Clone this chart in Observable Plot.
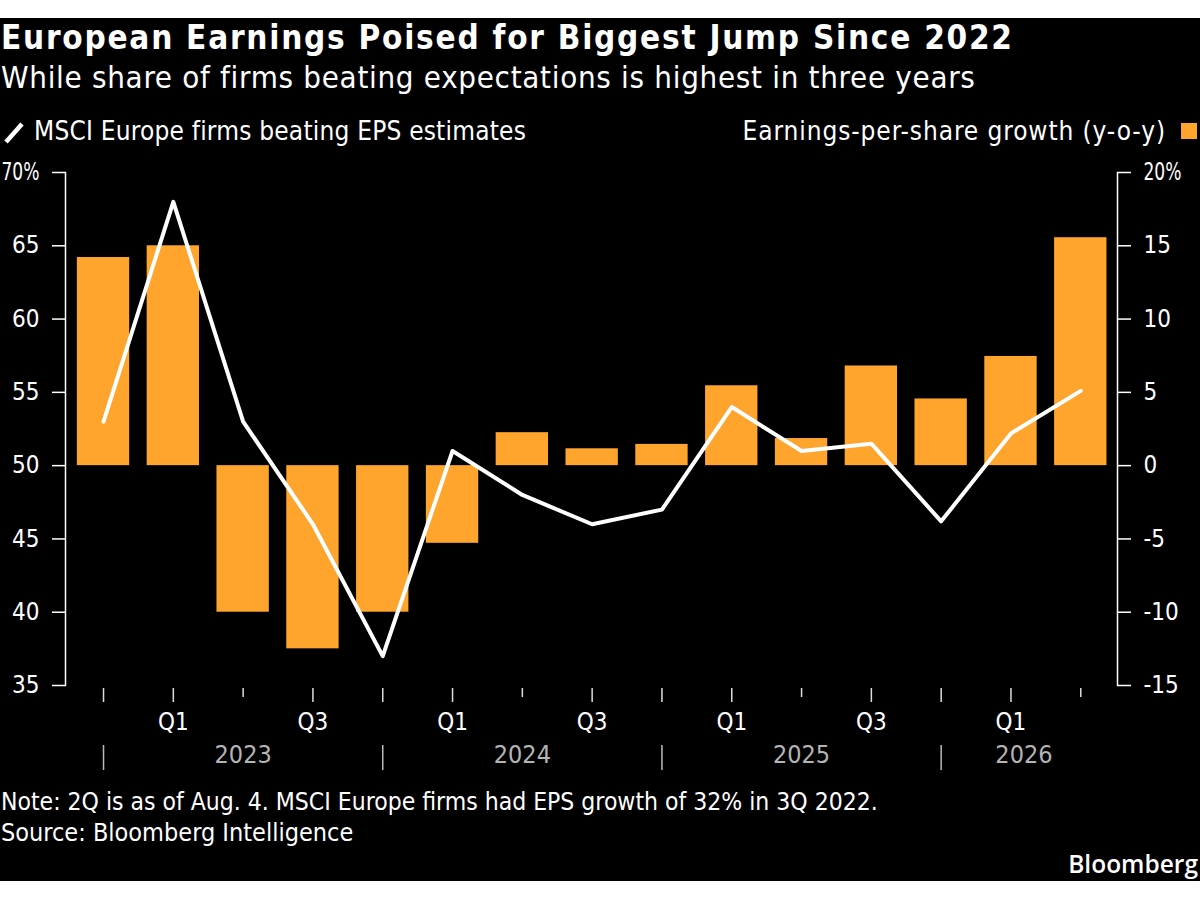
<!DOCTYPE html>
<html><head><meta charset="utf-8">
<script src="https://cdn.jsdelivr.net/npm/d3@7"></script>
<script src="https://cdn.jsdelivr.net/npm/@observablehq/plot@0.6"></script>
<style>
html,body{margin:0;padding:0;background:#fff}
#card{position:absolute;left:0;top:18px;width:1200px;height:863px;background:#000;color:#fff;overflow:hidden;
 font-family:"DejaVu Sans";font-stretch:condensed}
#title{position:absolute;left:1px;top:0;font-size:33px;font-weight:700;line-height:40px;white-space:nowrap;letter-spacing:1.75px}
#sub{position:absolute;left:1px;top:39px;font-size:31px;line-height:40px;white-space:nowrap;letter-spacing:.7px}
.leg{position:absolute;top:96px;font-size:26px;line-height:34px;white-space:nowrap}
#swL{position:absolute;left:4px;top:104px}
#swR{position:absolute;left:1181px;top:105px;width:16px;height:16px;background:#ffa42c}
#plot{position:absolute;left:0;top:132px}
.foot{position:absolute;left:1px;line-height:31px;white-space:nowrap}
#brand{position:absolute;right:2px;top:830px;font-family:"Open Sans";font-stretch:normal;font-weight:600;font-size:24.5px;line-height:32px}
</style></head>
<body>
<div id="card">
<div id="title">European Earnings Poised for Biggest Jump Since 2022</div>
<div id="sub">While share of firms beating expectations is highest in three years</div>
<svg id="swL" width="20" height="22"><line x1="2" y1="20" x2="18" y2="2" stroke="#fff" stroke-width="4.5"/></svg>
<div class="leg" style="left:34px;letter-spacing:.2px">MSCI Europe firms beating EPS estimates</div>
<div class="leg" style="right:34px;letter-spacing:.9px">Earnings-per-share growth (y-o-y)</div>
<div id="swR"></div>
<div id="plot"></div>
<div class="foot" style="top:768px;font-size:24.5px">Note: 2Q is as of Aug. 4. MSCI Europe firms had EPS growth of 32% in 3Q 2022.</div>
<div class="foot" style="top:799px;font-size:25px">Source: Bloomberg Intelligence</div>
<div id="brand">Bloomberg</div>
</div>
<script>
const quarters = ["4Q22","1Q23","2Q23","3Q23","4Q23","1Q24","2Q24","3Q24","4Q24","1Q25","2Q25","3Q25","4Q25","1Q26","2Q26"];
const epsGrowth = [14.2,15,-10,-12.5,-10,-5.3,2.25,1.15,1.45,5.45,1.85,6.8,4.55,7.45,15.55];
const beatShare = [53,68,53,46,37,51,48,46,47,54,51,51.5,46.2,52.2,55.1];
const leftTicks = [35,40,45,50,55,60,65,70];
const longTicks = ["4Q22","1Q23","3Q23","4Q23","1Q24","3Q24","4Q24","1Q25","3Q25","4Q25","1Q26"];
const shortTicks = ["2Q23","2Q24","2Q25","2Q26"];
const quarterLabels = {"1Q23":"Q1","3Q23":"Q3","1Q24":"Q1","3Q24":"Q3","1Q25":"Q1","3Q25":"Q3","1Q26":"Q1"};
const yearSeparators = ["4Q22","4Q23","4Q24","4Q25"];
const yearLabels = [{at:"2Q23",year:"2023"},{at:"2Q24",year:"2024"},{at:"2Q25",year:"2025"}];
const lastYear = [{at:"1Q26",year:"2026"}];
const rows = quarters.map((q,i)=>({q,eps:epsGrowth[i],beat:beatShare[i]}));
const zero = 50; // 0% growth on the right axis lines up with 50% on the left
const chart = Plot.plot({
  width:1200,height:640,marginTop:22,marginBottom:105,marginLeft:65,marginRight:83,
  style:{background:"#000",color:"#fff",fontFamily:'"DejaVu Sans"',fontStretch:"condensed",fontSize:"24px",overflow:"visible"},
  x:{type:"band",domain:quarters,padding:.25,round:false,range:[59.4,1123.9],label:null,axis:null},
  y:{domain:[35,70],label:null,axis:null},
  marks:[
    Plot.barY(rows,{x:"q",y1:()=>zero,y2:d=>d.eps+zero,fill:"#ffa42c"}),
    Plot.line(rows,{x:"q",y:"beat",stroke:"#fff",strokeWidth:4}),
    Plot.axisY(leftTicks,{anchor:"left",tickSize:13,tickPadding:13,stroke:"#fff",strokeWidth:1.5,fill:"#fff",
      tickFormat:d=>d===70?"70%":String(d),label:null}),
    Plot.axisY(leftTicks,{anchor:"right",tickSize:13,tickPadding:13,stroke:"#fff",strokeWidth:1.5,fill:"#fff",
      tickFormat:d=>(d-zero)===20?"20%":String(d-zero),label:null}),
    Plot.frame({anchor:"left",stroke:"#fff",strokeWidth:1.5}),
    Plot.frame({anchor:"right",stroke:"#fff",strokeWidth:1.5}),
    Plot.axisX(longTicks,{anchor:"bottom",tickSize:14,tickPadding:10,dy:3,stroke:"#ddd",strokeWidth:1.5,fill:"#fff",
      tickFormat:d=>quarterLabels[d]||"",label:null}),
    Plot.axisX(shortTicks,{anchor:"bottom",tickSize:9,dy:3,stroke:"#ddd",strokeWidth:1.5,tickFormat:()=>"",label:null}),
    Plot.axisX(yearSeparators,{anchor:"bottom",tickSize:25,dy:60,stroke:"#bbb",strokeWidth:1.5,tickFormat:()=>"",label:null}),
    Plot.text(yearLabels,{x:"at",text:"year",frameAnchor:"bottom",dy:69,lineAnchor:"middle",fill:"#b4b4b4",fontSize:25}),
    Plot.text(lastYear,{x:"at",text:"year",frameAnchor:"bottom",dy:69,dx:13,lineAnchor:"middle",fill:"#b4b4b4",fontSize:25})
  ]
});
document.getElementById("plot").append(chart);
// The reference's percent sign is very narrow: fit the two "%" tick labels to its width.
chart.querySelectorAll("text").forEach(t=>{
  if(t.textContent==="70%"||t.textContent==="20%"){
    t.setAttribute("textLength","38");t.setAttribute("lengthAdjust","spacingAndGlyphs");
  }
});
</script>
</body></html>
